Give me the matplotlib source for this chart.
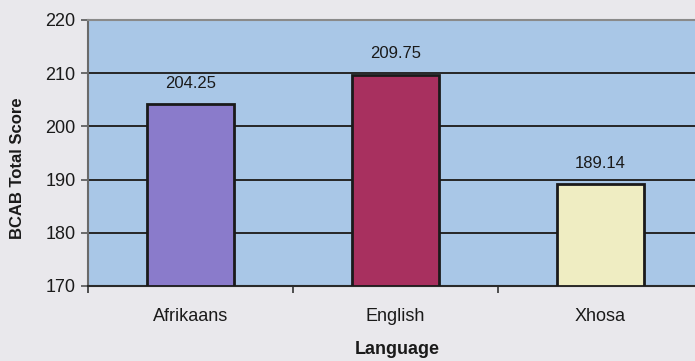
import matplotlib
matplotlib.use("Agg")
import matplotlib.pyplot as plt
from matplotlib.ticker import FixedLocator, NullFormatter

plt.rcParams['font.family'] = ['Liberation Sans', 'DejaVu Sans']

# Mean BCAB total score by home language
languages = ["Afrikaans", "English", "Xhosa"]
scores = [204.25, 209.75, 189.14]
score_labels = ["204.25", "209.75", "189.14"]
bar_colors = ["#8a7bcb", "#a8305f", "#efedc2"]
y_ticks = [170, 180, 190, 200, 210, 220]

fig = plt.figure(figsize=(6.95, 3.61), dpi=100)
fig.patch.set_facecolor("#e9e8ec")
ax = fig.add_axes([88 / 695, 75 / 361, 615 / 695, 266 / 361])
ax.set_facecolor("#a9c7e7")

x = list(range(len(languages)))
bottom = y_ticks[0]
heights = [s - bottom for s in scores]
bars = ax.bar(x, heights, bottom=bottom, width=0.42, color=bar_colors,
              edgecolor="#1a1a1a", linewidth=2.0, zorder=3)

for xi, s, lab in zip(x, scores, score_labels):
    ax.annotate(lab, (xi, s), xytext=(0, 9.5), textcoords="offset points",
                ha="center", va="bottom", fontsize=12, color="#1a1a1a")

ax.set_xlim(-0.5, len(languages) - 0.5)
ax.set_ylim(y_ticks[0], y_ticks[-1])
ax.set_yticks(y_ticks)
ax.yaxis.grid(True, color="#262626", linewidth=1.4, zorder=1)
ax.set_axisbelow(True)

# category boundaries carry the tick marks, names sit at the centres
ax.xaxis.set_major_locator(FixedLocator([i - 0.5 for i in range(len(languages) + 1)]))
ax.xaxis.set_major_formatter(NullFormatter())
ax.xaxis.set_minor_locator(FixedLocator(x))
ax.set_xticklabels(languages, minor=True)
ax.tick_params(axis="x", which="major", direction="out", length=5, width=1.2, color="#333333")
ax.tick_params(axis="x", which="minor", length=0, pad=16, labelsize=13, labelcolor="#1a1a1a")
ax.tick_params(axis="y", direction="out", length=5, width=1.2, color="#555555",
               labelsize=13, labelcolor="#1a1a1a", pad=4)

ax.spines["right"].set_visible(False)
ax.spines["top"].set_color("#8a8a8a")
ax.spines["top"].set_linewidth(1.5)
ax.spines["left"].set_color("#6a6a6a")
ax.spines["left"].set_linewidth(1.5)
ax.spines["bottom"].set_color("#2a2a2a")
ax.spines["bottom"].set_linewidth(1.5)

fig.text(18 / 695, 1 - 168 / 361, "BCAB Total Score", rotation=90, ha="center", va="center",
         fontsize=12, fontweight="bold", color="#1a1a1a")
fig.text(397 / 695, 1 - 350 / 361, "Language", ha="center", va="center",
         fontsize=13, fontweight="bold", color="#1a1a1a")

fig.savefig("out.png", dpi=100, facecolor=fig.get_facecolor())
